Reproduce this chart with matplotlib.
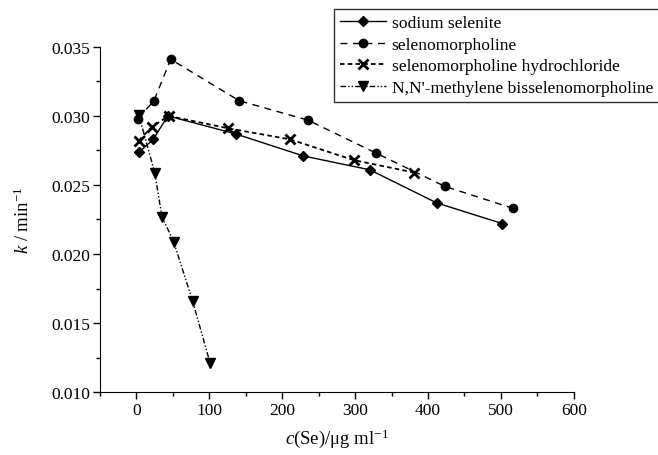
import numpy as np
import matplotlib
matplotlib.use("Agg")
import matplotlib.pyplot as plt
from matplotlib.ticker import MultipleLocator

plt.rcParams['font.family'] = ['Liberation Serif', 'DejaVu Serif']
plt.rcParams['mathtext.fontset'] = 'custom'
plt.rcParams['mathtext.rm'] = 'Liberation Serif'
plt.rcParams['mathtext.it'] = 'Liberation Serif:italic'

# data
x_selenite = [4, 23, 43, 136, 229, 320, 412, 502]
k_selenite = [0.0274, 0.0283, 0.0300, 0.0287, 0.0271, 0.0261, 0.0237, 0.0222]

x_morph = [2, 24, 47, 141, 235, 329, 423, 517]
k_morph = [0.0298, 0.0311, 0.0341, 0.0311, 0.0297, 0.0273, 0.0249, 0.0233]

x_hcl = [3, 21, 44, 126, 211, 298, 381]
k_hcl = [0.0282, 0.0292, 0.0300, 0.0291, 0.0283, 0.0268, 0.0259]

x_bis = [3, 25, 35, 51, 77, 101]
k_bis = [0.0301, 0.0259, 0.0227, 0.0209, 0.0166, 0.0121]

labels = ["sodium selenite", "selenomorpholine",
          "selenomorpholine hydrochloride", "N,N'-methylene bisselenomorpholine"]

fig = plt.figure(figsize=(6.58, 4.56), dpi=100)
ax = fig.add_axes([0.152, 0.138, 0.720, 0.757])

h1, = ax.plot(x_selenite, k_selenite, '-', color='black', lw=1.0,
              marker='D', ms=5, label=labels[0])
h2, = ax.plot(x_morph, k_morph, color='black', lw=1.0, dashes=(5, 4),
              marker='o', ms=6, label=labels[1])
h3, = ax.plot(x_hcl, k_hcl, color='black', lw=1.3, dashes=(2.5, 1.8),
              marker='x', ms=7, mew=2, label=labels[2])
h4, = ax.plot(x_bis, k_bis, color='black', lw=1.0, dashes=(4, 1.5, 1, 1.5, 1, 1.5),
              marker='v', ms=7, label=labels[3])

ax.set_xlim(-50, 600)
ax.set_ylim(0.010, 0.035)
ax.xaxis.set_major_locator(MultipleLocator(100))
ax.xaxis.set_minor_locator(MultipleLocator(50))
ax.yaxis.set_major_locator(MultipleLocator(0.005))
ax.yaxis.set_minor_locator(MultipleLocator(0.0025))
ax.yaxis.set_major_formatter(plt.FormatStrFormatter('%.3f'))

ax.spines['top'].set_visible(False)
ax.spines['right'].set_visible(False)
ax.tick_params(which='major', direction='out', length=5, width=1,
               labelsize=12.5, pad=2)
ax.tick_params(which='minor', direction='out', length=3, width=1)

ax.set_xlabel(r'$c$(Se)/μg ml$^{-1}$', fontsize=13.5, labelpad=6)
ax.set_ylabel(r'$k$ / min$^{-1}$', fontsize=13.5, labelpad=13)

leg = fig.legend(handles=[h1, h2, h3, h4], loc='upper left',
                 bbox_to_anchor=(334 / 658, 1 - 10 / 456), fontsize=12.6,
                 frameon=True, fancybox=False, handlelength=2.6,
                 handletextpad=0.35, borderpad=0.35, labelspacing=0.3,
                 borderaxespad=0)
leg.get_frame().set_edgecolor('black')
leg.get_frame().set_linewidth(1.0)

fig.savefig('out.png', dpi=100)
